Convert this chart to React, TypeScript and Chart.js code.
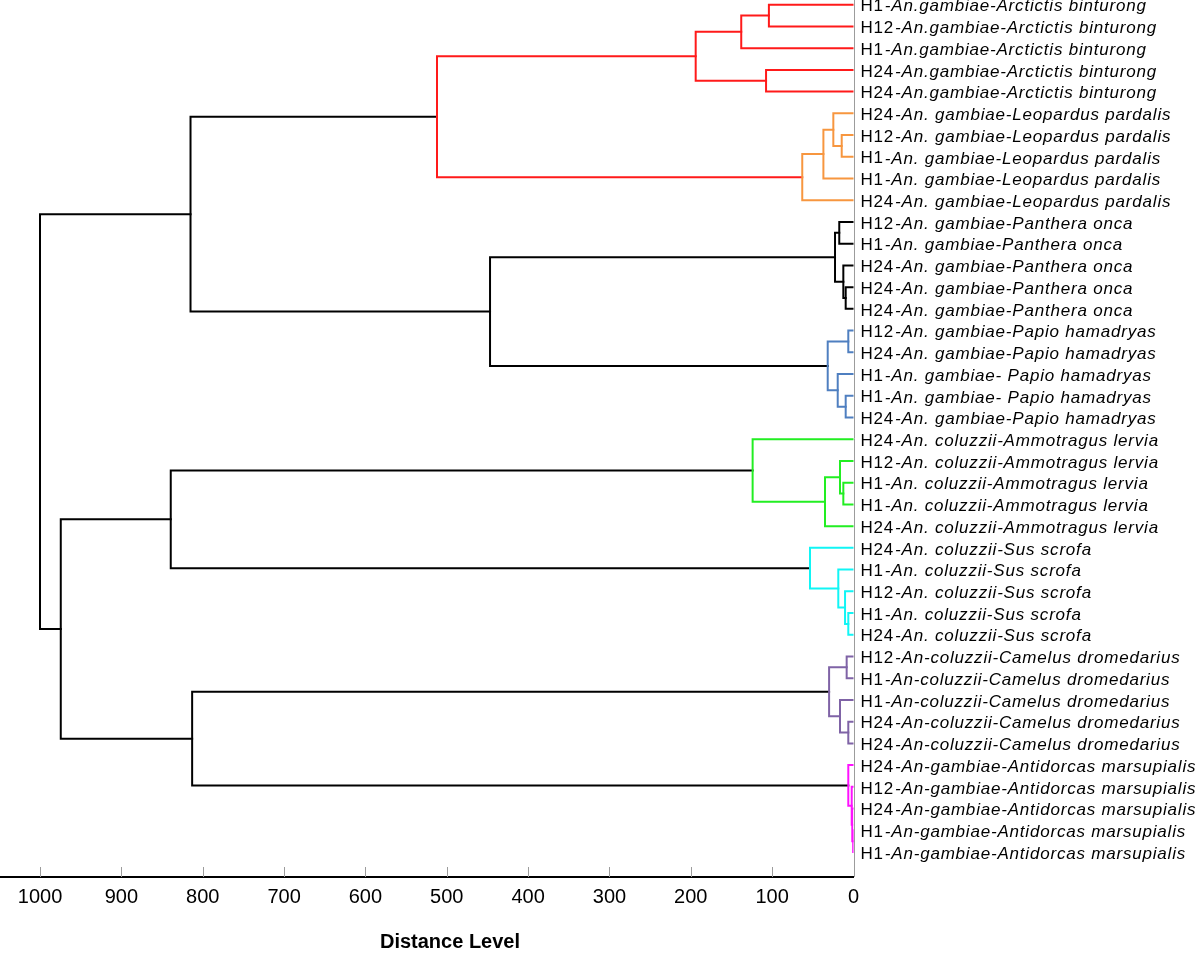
import React, { useEffect, useRef } from 'react';
import { Chart, registerables } from 'chart.js';

Chart.register(...registerables);

// ---------- data ----------
const leafLabels: string[] = [
  'H1-An.gambiae-Arctictis binturong',
  'H12-An.gambiae-Arctictis binturong',
  'H1-An.gambiae-Arctictis binturong',
  'H24-An.gambiae-Arctictis binturong',
  'H24-An.gambiae-Arctictis binturong',
  'H24-An. gambiae-Leopardus pardalis',
  'H12-An. gambiae-Leopardus pardalis',
  'H1-An. gambiae-Leopardus pardalis',
  'H1-An. gambiae-Leopardus pardalis',
  'H24-An. gambiae-Leopardus pardalis',
  'H12-An. gambiae-Panthera onca',
  'H1-An. gambiae-Panthera onca',
  'H24-An. gambiae-Panthera onca',
  'H24-An. gambiae-Panthera onca',
  'H24-An. gambiae-Panthera onca',
  'H12-An. gambiae-Papio hamadryas',
  'H24-An. gambiae-Papio hamadryas',
  'H1-An. gambiae- Papio hamadryas',
  'H1-An. gambiae- Papio hamadryas',
  'H24-An. gambiae-Papio hamadryas',
  'H24-An. coluzzii-Ammotragus lervia',
  'H12-An. coluzzii-Ammotragus lervia',
  'H1-An. coluzzii-Ammotragus lervia',
  'H1-An. coluzzii-Ammotragus lervia',
  'H24-An. coluzzii-Ammotragus lervia',
  'H24-An. coluzzii-Sus scrofa',
  'H1-An. coluzzii-Sus scrofa',
  'H12-An. coluzzii-Sus scrofa',
  'H1-An. coluzzii-Sus scrofa',
  'H24-An. coluzzii-Sus scrofa',
  'H12-An-coluzzii-Camelus dromedarius',
  'H1-An-coluzzii-Camelus dromedarius',
  'H1-An-coluzzii-Camelus dromedarius',
  'H24-An-coluzzii-Camelus dromedarius',
  'H24-An-coluzzii-Camelus dromedarius',
  'H24-An-gambiae-Antidorcas marsupialis',
  'H12-An-gambiae-Antidorcas marsupialis',
  'H24-An-gambiae-Antidorcas marsupialis',
  'H1-An-gambiae-Antidorcas marsupialis',
  'H1-An-gambiae-Antidorcas marsupialis',
];

// merges: ids 0..39 are leaves, merge k creates node id 40 + k
const mergePairs: [number, number][] = [
  [0, 1], [40, 2], [3, 4], [41, 42],                // red 40-43
  [6, 7], [5, 44], [45, 8], [46, 9],                // orange 44-47
  [43, 47],                                         // red 48
  [10, 11], [13, 14], [12, 50], [49, 51],           // black 49-52
  [15, 16], [18, 19], [17, 54], [53, 55],           // blue 53-56
  [52, 56], [48, 57],                               // black 57-58
  [22, 23], [21, 59], [60, 24], [20, 61],           // green 59-62
  [28, 29], [27, 63], [26, 64], [25, 65],           // cyan 63-66
  [62, 66],                                         // black 67
  [30, 31], [33, 34], [32, 69], [68, 70],           // purple 68-71
  [38, 39], [37, 72], [36, 73], [35, 74],           // magenta 72-75
  [71, 75], [67, 76], [58, 77],                     // black 76-78
];

const mergeHeights: number[] = [
  104, 138, 107.5, 194,
  14.5, 24.8, 37, 63,
  512,
  17.5, 9.6, 12.5, 22.7,
  6.4, 9.6, 19.4, 31.7,
  446.8, 815,
  12.5, 16.6, 35, 124,
  6.4, 10.4, 18.7, 53.5,
  839.3,
  8.4, 6.4, 16.6, 30,
  0.6, 1.5, 2.2, 6.4,
  813, 974.5, 1000,
];

const mergeGroups: string[] = [
  'red', 'red', 'red', 'red',
  'orange', 'orange', 'orange', 'orange',
  'red',
  'black', 'black', 'black', 'black',
  'blue', 'blue', 'blue', 'blue',
  'black', 'black',
  'green', 'green', 'green', 'green',
  'cyan', 'cyan', 'cyan', 'cyan',
  'black',
  'purple', 'purple', 'purple', 'purple',
  'magenta', 'magenta', 'magenta', 'magenta',
  'black', 'black', 'black',
];

const tickValues: number[] = [0, 100, 200, 300, 400, 500, 600, 700, 800, 900, 1000];
const axisTitle = 'Distance Level';

// ---------- styles ----------
const palette: Record<string, string> = {
  red: '#ff1a1a',
  orange: '#f7963f',
  black: '#000000',
  blue: '#4f7fc0',
  green: '#22ee22',
  cyan: '#11f5f5',
  purple: '#7f63a6',
  magenta: '#ff11ff',
};
const FONT = '"Liberation Sans", Arial, Helvetica, sans-serif';

function buildDatasets() {
  const nodeY: number[] = leafLabels.map((_, i) => i);
  const nodeH: number[] = leafLabels.map(() => 0);
  return mergePairs.map(([a, b], k) => {
    const h = mergeHeights[k];
    const ya = nodeY[a];
    const yb = nodeY[b];
    const ha = nodeH[a];
    const hb = nodeH[b];
    nodeY.push((ya + yb) / 2);
    nodeH.push(h);
    return {
      type: 'line' as const,
      data: [
        { x: ha, y: ya },
        { x: h, y: ya },
        { x: h, y: yb },
        { x: hb, y: yb },
      ],
      borderColor: palette[mergeGroups[k]],
      borderWidth: 2,
      pointRadius: 0,
      pointHoverRadius: 0,
      fill: false,
      tension: 0,
      borderJoinStyle: 'miter' as const,
      borderCapStyle: 'square' as const,
    };
  });
}

const decorPlugin = {
  id: 'dendroDecor',
  beforeDatasetsDraw(chart: any) {
    const { ctx, chartArea, scales } = chart;
    const xs = scales.x;
    const x0 = Math.round(xs.getPixelForValue(0)) + 0.5;
    ctx.save();
    ctx.strokeStyle = '#9c9c9c';
    ctx.lineWidth = 1;
    ctx.beginPath();
    ctx.moveTo(x0, chartArea.top);
    ctx.lineTo(x0, chartArea.bottom);
    for (const v of tickValues) {
      if (v === 0) continue;
      const px = Math.round(xs.getPixelForValue(v)) + 0.5;
      ctx.moveTo(px, chartArea.bottom);
      ctx.lineTo(px, chartArea.bottom - 10);
    }
    ctx.stroke();
    ctx.restore();
  },
  afterDraw(chart: any) {
    const { ctx, scales, chartArea } = chart;
    const xs = scales.x;
    const ys = scales.y;
    const xStart = xs.getPixelForValue(0) + 7;
    ctx.save();
    ctx.fillStyle = '#000';
    ctx.textBaseline = 'middle';
    ctx.textAlign = 'left';
    try { (ctx as any).letterSpacing = '0.8px'; } catch (e) { /* ignore */ }
    leafLabels.forEach((lab, i) => {
      const cut = lab.indexOf('-');
      const pre = lab.slice(0, cut);
      const rest = lab.slice(cut);
      const y = ys.getPixelForValue(i) + 2;
      ctx.font = `17px ${FONT}`;
      ctx.fillText(pre, xStart, y);
      const w = ctx.measureText(pre).width;
      ctx.font = `italic 17px ${FONT}`;
      ctx.fillText(rest, xStart + w + 1, y);
    });
    try { (ctx as any).letterSpacing = '0px'; } catch (e) { /* ignore */ }
    ctx.font = `bold 20px ${FONT}`;
    ctx.textAlign = 'center';
    ctx.fillText(axisTitle, chartArea.left + 450, 942);
    ctx.restore();
  },
};

export default function App() {
  const ref = useRef<HTMLCanvasElement | null>(null);
  useEffect(() => {
    if (!ref.current) return;
    const chart = new Chart(ref.current, {
      type: 'line',
      data: { datasets: buildDatasets() as any },
      options: {
        animation: false,
        responsive: false,
        maintainAspectRatio: false,
        parsing: false as any,
        normalized: true,
        layout: { padding: { left: 0, right: 346.5, top: 0, bottom: 36 } },
        plugins: {
          legend: { display: false },
          tooltip: { enabled: false },
          title: { display: false },
        },
        events: [],
        scales: {
          x: {
            type: 'linear',
            reverse: true,
            min: 0,
            max: 1049.2,
            afterBuildTicks: (s: any) => {
              s.ticks = tickValues.map((v) => ({ value: v }));
            },
            ticks: {
              font: { family: FONT, size: 20 },
              color: '#000',
              padding: 8,
              maxRotation: 0,
              autoSkip: false,
              callback: (v: any) => String(v),
            },
            grid: { display: true, drawOnChartArea: false, drawTicks: false },
            border: { display: true, color: '#000', width: 2 },
          },
          y: {
            type: 'linear',
            reverse: true,
            min: -0.2166,
            max: 40.15,
            display: false,
          },
        },
      },
      plugins: [decorPlugin],
    });
    return () => chart.destroy();
  }, []);
  return (
    <div style={{ position: 'absolute', left: 0, top: 0, width: 1200, height: 953, background: '#fff' }}>
      <canvas ref={ref} width={1200} height={953} style={{ display: 'block' }} />
    </div>
  );
}
